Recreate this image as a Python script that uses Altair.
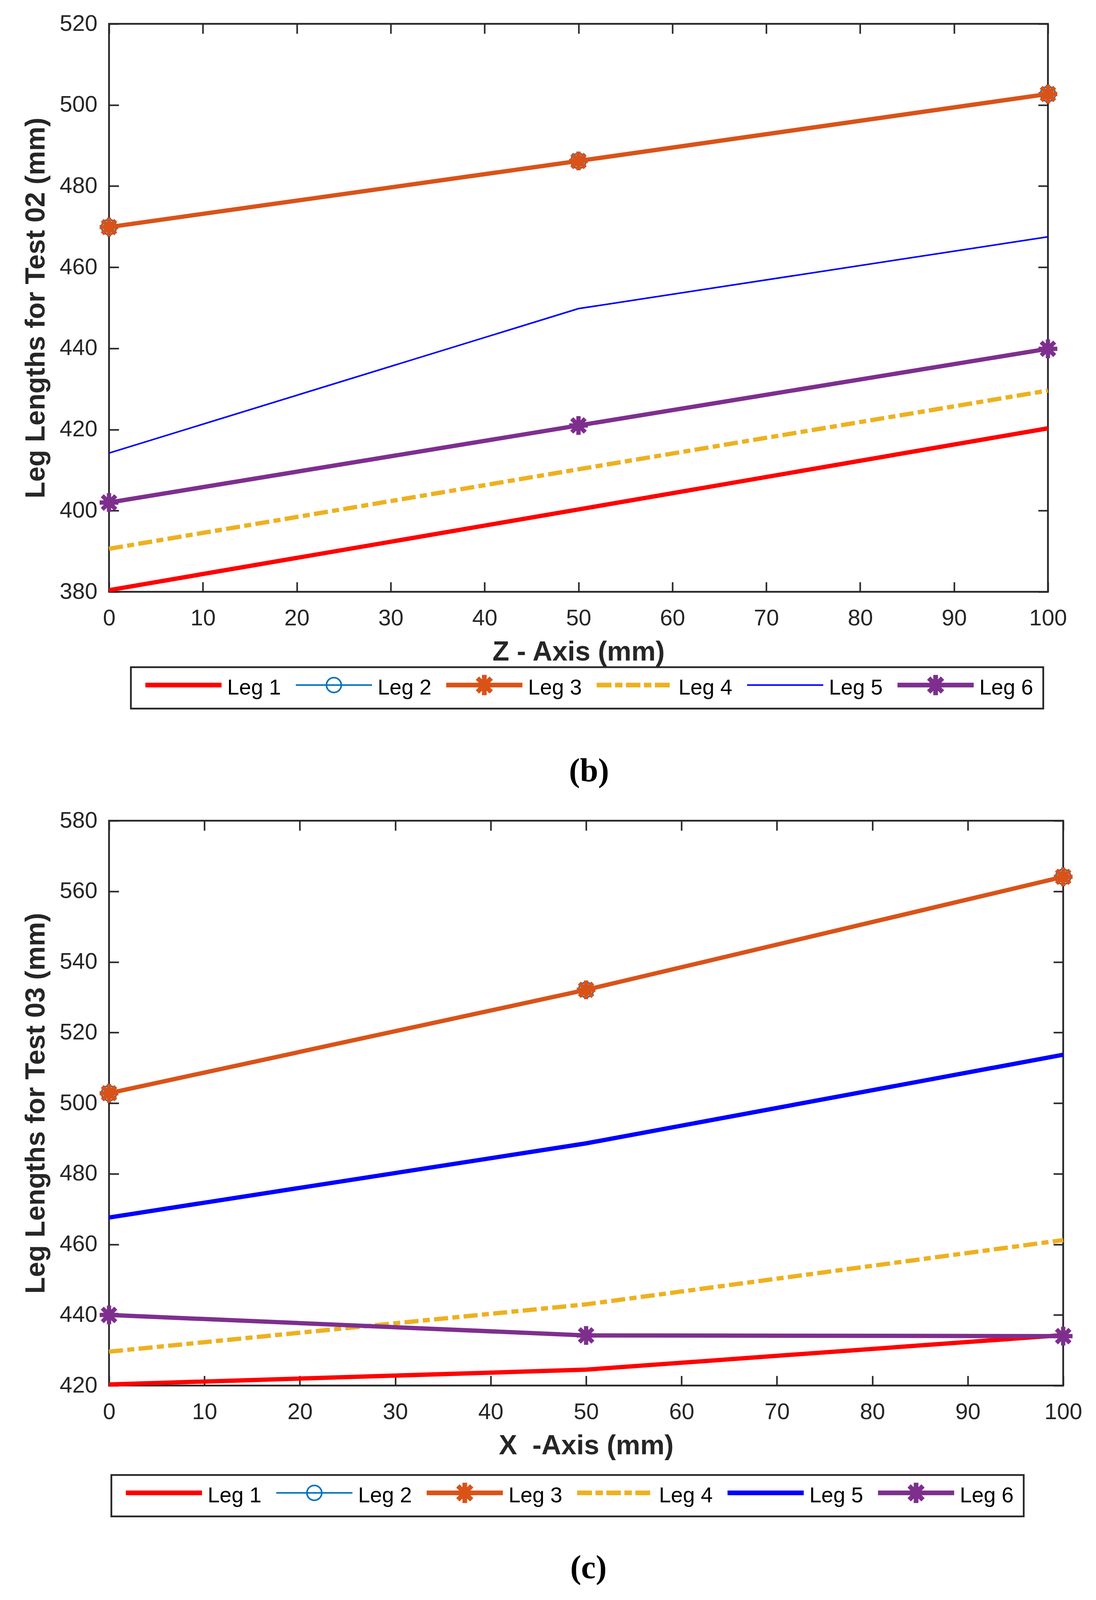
import math
import altair as alt
import pandas as pd

# ---------------- data ----------------
X_VALUES = [0, 50, 100]
LEGS = ["Leg 1", "Leg 2", "Leg 3", "Leg 4", "Leg 5", "Leg 6"]
COLORS = ["#FF0000", "#0072BD", "#D95319", "#EDB120", "#0000FF", "#7E2F8E"]
X_TICKS = [0, 10, 20, 30, 40, 50, 60, 70, 80, 90, 100]

# Test 02 (Z-axis)
T2_LEG1 = [380.4, 400.3, 420.3]
T2_LEG2 = [469.9, 486.2, 502.7]
T2_LEG3 = [469.9, 486.2, 502.7]
T2_LEG4 = [390.6, 410.2, 429.6]
T2_LEG5 = [414.2, 449.8, 467.5]
T2_LEG6 = [402.0, 421.0, 439.9]
T2_YTICKS = [380, 400, 420, 440, 460, 480, 500, 520]

# Test 03 (X-axis)
T3_LEG1 = [420.3, 424.5, 434.3]
T3_LEG2 = [502.8, 532.1, 564.1]
T3_LEG3 = [502.8, 532.1, 564.1]
T3_LEG4 = [429.6, 443.0, 461.2]
T3_LEG5 = [467.6, 488.6, 513.7]
T3_LEG6 = [440.0, 434.2, 434.0]
T3_YTICKS = [420, 440, 460, 480, 500, 520, 540, 560, 580]

# ---------------- style ----------------
DARK = "#262626"
SANS = "Liberation Sans"
SERIF = "Liberation Serif"
THICK = 11
THIN = 4
DASHDOT = [36, 11, 18, 11]
ASTER = "M-1,0L1,0M0,-1L0,1M-0.72,-0.72L0.72,0.72M-0.72,0.72L0.72,-0.72"

# legend symbol geometry (px), normalised to symbol path units
LEG_FONT = 55
UNIT = LEG_FONT / 2.0      # px per path unit (symbolSize = LEG_FONT^2)
SAMPLE = 195.0
HALF = SAMPLE / 2
CY = -7.0                  # vertical shift of the sample relative to label centre


def f(v):
    return f"{v / UNIT:.4f}"


def bar(cx, cy, hl, hw, ang):
    a = math.radians(ang)
    c, s = math.cos(a), math.sin(a)
    pts = []
    for lx, ly in [(-hl, -hw), (hl, -hw), (hl, hw), (-hl, hw)]:
        pts.append((cx + lx * c - ly * s, cy + lx * s + ly * c))
    return "M" + "L".join(f"{f(px)},{f(py)}" for px, py in pts) + "Z"


def ring(ro, ri, cy):
    return (f"M{f(ro)},{f(cy)}A{f(ro)},{f(ro)} 0 1,1 {f(-ro)},{f(cy)}"
            f"A{f(ro)},{f(ro)} 0 1,1 {f(ro)},{f(cy)}Z"
            f"M{f(ri)},{f(cy)}A{f(ri)},{f(ri)} 0 1,0 {f(-ri)},{f(cy)}"
            f"A{f(ri)},{f(ri)} 0 1,0 {f(ri)},{f(cy)}Z")


LINE_THICK = bar(0, CY, HALF, 6, 0)
LINE_THIN = bar(0, CY, HALF, 2, 0)
STAR = bar(0, CY, 26, 6, 90) + bar(0, CY, 25, 6, 45) + bar(0, CY, 25, 6, -45)
CIRC = ring(21, 17, CY)
DD = "".join(bar((a + b) / 2 - HALF, CY, (b - a) / 2, 6, 0)
             for a, b in [(0, 38), (47, 66), (75, 112), (121, 140), (149, 187)])


def legend_shapes(leg5_thin):
    return [LINE_THICK, LINE_THIN + CIRC, LINE_THICK + STAR, DD,
            LINE_THIN if leg5_thin else LINE_THICK, LINE_THICK + STAR]


def legend_for(lx, ly):
    return alt.Legend(
        title=None, orient="none", legendX=lx, legendY=ly,
        direction="horizontal", columns=6,
        symbolSize=LEG_FONT * LEG_FONT, symbolStrokeWidth=0, symbolOpacity=1,
        symbolOffset=82, labelOffset=84.5,
        labelFont=SANS, labelFontSize=LEG_FONT, labelColor="#000000",
        labelLimit=400, columnPadding=25, padding=25, strokeColor=DARK,
    )


def tick_axis(orient, offset, values):
    return alt.Axis(orient=orient, offset=offset, values=values, labels=False,
                    domain=False, grid=False, ticks=True, tickSize=25,
                    tickWidth=4, tickColor=DARK, title=None)


def build(series, ydom, yticks, xtitle, ytitle, caption, leg5_thin,
          lx, ly, W, H, cap_dx, cap_offset):
    rows = []
    for leg, vals in zip(LEGS, series):
        for xv, yv in zip(X_VALUES, vals):
            rows.append({"x": xv, "y": yv, "leg": leg})
    df = pd.DataFrame(rows)
    base = alt.Chart(df)
    xs = alt.Scale(domain=[0, 100], nice=False, zero=False)
    ys = alt.Scale(domain=ydom, nice=False, zero=False)

    main_x = alt.Axis(orient="bottom", values=X_TICKS, ticks=False, tickSize=0,
                      domain=False, grid=False, labelFont=SANS, labelFontSize=58,
                      labelColor=DARK, labelPadding=39, labelFlush=False,
                      labelOverlap=False, title=xtitle, titleFont=SANS,
                      titleFontSize=70, titleFontWeight="bold", titleColor=DARK,
                      titlePadding=23)
    main_y = alt.Axis(orient="left", values=yticks, ticks=False, tickSize=0,
                      domain=False, grid=False, labelFont=SANS, labelFontSize=58,
                      labelColor=DARK, labelPadding=30, labelFlush=False,
                      labelOverlap=False, title=ytitle, titleFont=SANS,
                      titleFontSize=70, titleFontWeight="bold", titleColor=DARK,
                      titlePadding=24)

    color = alt.Color("leg:N", scale=alt.Scale(domain=LEGS, range=COLORS), legend=None)
    leg = legend_for(lx, ly)

    def enc(first=False):
        return dict(
            x=alt.X("x:Q", scale=xs, axis=main_x if first else None),
            y=alt.Y("y:Q", scale=ys, axis=main_y if first else None),
            color=color,
        )

    def sel(name):
        return base.transform_filter(alt.datum.leg == name)

    layers = [
        sel("Leg 1").mark_line(strokeWidth=THICK).encode(**enc(True)),
        sel("Leg 2").mark_line(strokeWidth=THIN).encode(**enc()),
        sel("Leg 2").mark_point(shape="circle", size=1444, strokeWidth=THIN,
                                filled=False, opacity=1).encode(**enc()),
        sel("Leg 3").mark_line(strokeWidth=THICK).encode(**enc()),
        sel("Leg 3").mark_point(shape=ASTER, size=2304, strokeWidth=THICK,
                                filled=False, opacity=1).encode(**enc()),
        sel("Leg 4").mark_line(strokeWidth=THICK, strokeDash=DASHDOT).encode(**enc()),
        sel("Leg 5").mark_line(strokeWidth=THIN if leg5_thin else THICK).encode(**enc()),
        sel("Leg 6").mark_line(strokeWidth=THICK).encode(**enc()),
        sel("Leg 6").mark_point(shape=ASTER, size=2304, strokeWidth=THICK,
                                filled=False, opacity=1).encode(**enc()),
        # legend carrier (invisible marks, legend built from fill + shape scales)
        base.mark_point(filled=True, opacity=0).encode(
            x=alt.X("x:Q", scale=xs, axis=None),
            y=alt.Y("y:Q", scale=ys, axis=None),
            fill=alt.Fill("leg:N", scale=alt.Scale(domain=LEGS, range=COLORS), legend=leg),
            shape=alt.Shape("leg:N", scale=alt.Scale(domain=LEGS, range=legend_shapes(leg5_thin)),
                            legend=leg),
        ),
        # inward tick marks on all four sides
        base.mark_point(opacity=0).encode(
            x=alt.X("x:Q", scale=xs, axis=tick_axis("top", -H, X_TICKS)),
            y=alt.Y("y:Q", scale=ys, axis=tick_axis("right", -W, yticks))),
        base.mark_point(opacity=0).encode(
            x=alt.X("x:Q", scale=xs, axis=tick_axis("bottom", -H, X_TICKS)),
            y=alt.Y("y:Q", scale=ys, axis=tick_axis("left", -W, yticks))),
    ]
    return alt.layer(*layers).resolve_axis(x="independent", y="independent").properties(
        width=W, height=H,
        title=alt.TitleParams(text=caption, orient="bottom", anchor="middle",
                              frame="group", font=SERIF, fontSize=84,
                              fontWeight="bold", color="#000000",
                              offset=cap_offset, dx=cap_dx),
    )


def make(legend_stroke=True):
    top = build([T2_LEG1, T2_LEG2, T2_LEG3, T2_LEG4, T2_LEG5, T2_LEG6],
                [380, 520], T2_YTICKS, "Z - Axis (mm)",
                "Leg Lengths for Test 02 (mm)", "(b)", True,
                56, 1647, 2403, 1454, 27, 118)
    bottom = build([T3_LEG1, T3_LEG2, T3_LEG3, T3_LEG4, T3_LEG5, T3_LEG6],
                   [420, 580], T3_YTICKS, "X\u00a0 -Axis (mm)",
                   "Leg Lengths for Test 03 (mm)", "(c)", False,
                   6, 1675, 2442, 1446, 6, 90)
    ch = alt.vconcat(top, bottom, spacing=49).resolve_scale(
        fill="independent", shape="independent"
    ).properties(
        padding={"left": 46, "top": 21, "right": 20, "bottom": 10},
        background="white",
    ).configure_view(stroke=DARK, strokeWidth=4.5)
    if legend_stroke:
        ch = ch.configure_legend(strokeWidth=4.5)
    return ch


chart = make(True)
try:
    chart.to_dict()
except Exception:
    chart = make(False)

chart.save("out.html", embed_options={"renderer": "svg", "actions": False})
